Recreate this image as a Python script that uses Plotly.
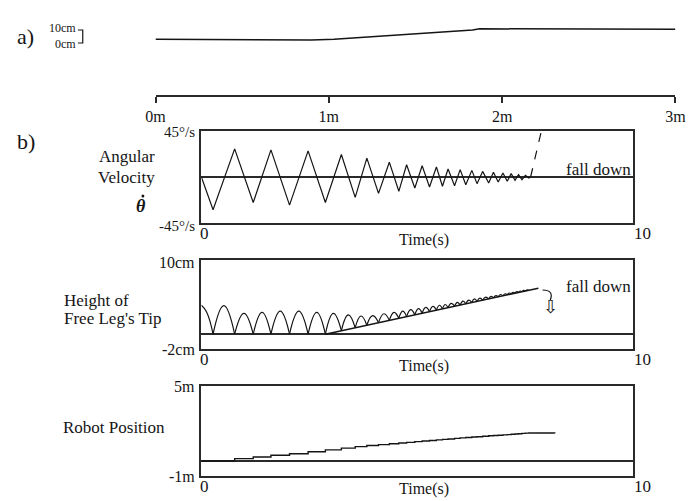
import plotly.graph_objects as go

W, H = 700, 501

# ---------------- data ----------------
# a) terrain profile (distance in m, height in cm)
TERRAIN_X = [0, 0.3, 0.6, 0.76, 0.9, 1.03, 1.2, 1.34, 1.5, 1.64, 1.75, 1.83, 1.87, 2.0, 2.2, 2.4, 2.6, 2.8, 3.0]
TERRAIN_H = [0, -0.2, -0.5, -1.2, -0.8, 0, 2.0, 3.6, 5.3, 7.3, 8.3, 9.3, 10.5, 10.4, 10.0, 10.0, 10.2, 10.0, 10.0]
TERRAIN_TICKS = [0, 1, 2, 3]
TERRAIN_TICKTEXT = ["0m", "1m", "2m", "3m"]

# b) angular velocity (deg/s) at turning points
AV_T = [0, 0.27, 0.77, 1.2, 1.61, 2.04, 2.47, 2.87, 3.24, 3.56, 3.83, 4.10, 4.35, 4.57, 4.75,
        4.94, 5.11, 5.28, 5.44, 5.58, 5.71, 5.86, 5.99, 6.12, 6.26, 6.38, 6.51, 6.65, 6.76,
        6.87, 6.98, 7.08, 7.17, 7.26, 7.34, 7.42, 7.50, 7.58, 7.62]
AV = [0, -32, 27.5, -25, 26.5, -27.5, 25.6, -25, 22, -20, 18.5, -16, 14.5, -14, 12,
      -10.8, 11, -9.8, 9.8, -9.1, 7.8, -8.5, 7.2, -7.5, 6.5, -6.5, 5.5, -5.9, 4.6,
      -4.9, 3.9, -4.2, 3.3, -3.3, 2.3, -2.6, 1.6, -1, 0]
AV_FALL_T = [7.62, 7.87]
AV_FALL = [0, 45]

# height of free leg's tip (cm): contact times, contact heights, arc peaks
CONTACT_T = [0.27, 0.77, 1.2, 1.61, 2.04, 2.47, 2.87, 3.24, 3.56, 3.83, 4.10, 4.35, 4.57, 4.75,
             4.94, 5.11, 5.28, 5.44, 5.58, 5.71, 5.86, 5.99, 6.12, 6.26, 6.38, 6.51, 6.65, 6.76,
             6.87, 6.98, 7.08, 7.17, 7.26, 7.34, 7.42, 7.50, 7.58]
CONTACT_H = [0, 0, 0, 0, 0, 0, 0, 0.47, 0.87, 1.21, 1.55, 1.86, 2.14, 2.36,
             2.6, 2.82, 3.03, 3.23, 3.41, 3.57, 3.76, 3.92, 4.09, 4.26, 4.41, 4.58, 4.75, 4.89,
             5.03, 5.17, 5.3, 5.41, 5.52, 5.62, 5.72, 5.82, 5.92]
ARC_PEAK = [3.85, 2.8, 2.95, 3.1, 3.1, 2.95, 2.8, 2.6, 2.45, 2.5, 2.75, 2.95, 3.1,
            3.3, 3.45, 3.6, 3.75, 3.9, 4.0, 4.15, 4.3, 4.45, 4.6, 4.75, 4.85, 5.0, 5.1,
            5.2, 5.35, 5.45, 5.55, 5.65, 5.75, 5.82, 5.9, 5.98]
START_T = [0, 0.12, 0.27]
START_H = [3.9, 3.0, 0]
SUPPORT_T = [2.87, 7.8]
SUPPORT_H = [0, 6.2]

# robot position (m)
POS_T = [0, 0.77, 1.2, 1.61, 2.04, 2.47, 2.87, 3.24, 3.56, 3.83, 4.10, 4.35, 4.57, 4.75, 4.94,
         5.11, 5.28, 5.44, 5.58, 5.71, 5.86, 5.99, 6.12, 6.26, 6.38, 6.51, 6.65, 6.76, 6.87,
         6.98, 7.08, 7.17, 7.26, 7.34, 7.42, 7.50, 7.58, 8.18]
POS = [0, 0.16, 0.27, 0.38, 0.48, 0.62, 0.74, 0.86, 0.96, 1.03, 1.09, 1.15, 1.20, 1.24, 1.29,
       1.33, 1.37, 1.41, 1.44, 1.47, 1.51, 1.54, 1.57, 1.60, 1.62, 1.65, 1.68, 1.70, 1.72,
       1.74, 1.76, 1.78, 1.80, 1.82, 1.84, 1.86, 1.87, 1.85]

# ---------------- layout helpers ----------------
def px(x):
    return x / W

def py(y):
    return 1 - y / H

FONT = "Liberation Serif"
INK = "#151515"
BOX = "#2a2a2a"

BX0, BX1 = 197.3, 642.7
PANELS = {  # top, bottom in pixels
    2: (131, 223),
    3: (260, 349),
    4: (386, 476),
}

fig = go.Figure()

# a) terrain
fig.add_trace(go.Scatter(x=TERRAIN_X, y=TERRAIN_H, mode="lines",
                         line=dict(color=INK, width=1.5), xaxis="x", yaxis="y",
                         hoverinfo="skip", showlegend=False))

# b1) angular velocity
fig.add_trace(go.Scatter(x=AV_T, y=AV, mode="lines", line=dict(color=INK, width=1.2),
                         xaxis="x2", yaxis="y2", showlegend=False))
fig.add_trace(go.Scatter(x=AV_FALL_T, y=AV_FALL, mode="lines",
                         line=dict(color=INK, width=1.2, dash="dash"),
                         xaxis="x2", yaxis="y2", showlegend=False))

# b2) free leg tip height
ax, ay = list(START_T) + [None], list(START_H) + [None]
for i in range(len(CONTACT_T) - 1):
    t0, t1 = CONTACT_T[i], CONTACT_T[i + 1]
    ax += [t0, (t0 + t1) / 2, t1, None]
    ay += [CONTACT_H[i], ARC_PEAK[i], CONTACT_H[i + 1], None]
fig.add_trace(go.Scatter(x=ax, y=ay, mode="lines",
                         line=dict(color=INK, width=1.2, shape="spline", smoothing=1.3),
                         connectgaps=False, xaxis="x3", yaxis="y3", showlegend=False))
fig.add_trace(go.Scatter(x=SUPPORT_T, y=SUPPORT_H, mode="lines",
                         line=dict(color=INK, width=1.5),
                         xaxis="x3", yaxis="y3", showlegend=False))

# b3) robot position
fig.add_trace(go.Scatter(x=POS_T, y=POS, mode="lines",
                         line=dict(color=INK, width=1.4, shape="hv"),
                         xaxis="x4", yaxis="y4", showlegend=False))

layout = dict(
    width=W, height=H, margin=dict(l=0, r=0, t=0, b=0),
    paper_bgcolor="white", plot_bgcolor="rgba(0,0,0,0)",
    font=dict(family=FONT, color=INK),
    showlegend=False,
)

# terrain axes
A_AXIS_Y = 96
layout["xaxis"] = dict(domain=[px(150), px(686)], range=[0, 3], anchor="free",
                       position=py(A_AXIS_Y), showline=True, linecolor=BOX, linewidth=1.5,
                       ticks="outside", ticklen=6, tickcolor=BOX, tickwidth=1.5,
                       tickvals=TERRAIN_TICKS, ticktext=TERRAIN_TICKTEXT,
                       tickfont=dict(family=FONT, size=16, color=INK),
                       showgrid=False, zeroline=False, fixedrange=True)
layout["yaxis"] = dict(domain=[py(55), py(15)], range=[-15.7, 24.3], visible=False,
                       fixedrange=True)

ranges = {2: [-45, 45], 3: [-2, 10], 4: [-1, 5]}
for k, (top, bot) in PANELS.items():
    layout[f"xaxis{k}"] = dict(domain=[px(BX0), px(BX1)], range=[0, 10], anchor=f"y{k}",
                               showline=True, mirror=True, linecolor=BOX, linewidth=1.5,
                               showticklabels=False, ticks="", showgrid=False,
                               zeroline=False, fixedrange=True)
    layout[f"yaxis{k}"] = dict(domain=[py(bot), py(top)], range=ranges[k], anchor=f"x{k}",
                               showline=True, mirror=True, linecolor=BOX, linewidth=1.5,
                               showticklabels=False, ticks="", showgrid=False,
                               zeroline=True, zerolinecolor=BOX, zerolinewidth=1.5,
                               fixedrange=True)

fig.update_layout(**layout)

ann = []

def text(x, y, s, size=16, xanchor="center", yanchor="middle", align="center"):
    ann.append(dict(x=px(x), y=py(y), xref="paper", yref="paper", text=s, showarrow=False,
                    xanchor=xanchor, yanchor=yanchor, align=align, borderpad=0,
                    font=dict(family=FONT, size=size, color=INK)))

# panel a labels
text(6, 37, "a)", size=22, xanchor="left")
text(69, 36, "10cm<br>0cm", size=12, xanchor="right", align="right")

# panel b labels
text(6, 142, "b)", size=22, xanchor="left")
TIME_Y = {2: 240, 3: 366, 4: 489}
for k, (top, bot) in PANELS.items():
    text(BX0 - 2, bot + 10, "0", size=17, xanchor="left")
    text(652, bot + 10, "10", size=17)
    text(427, TIME_Y[k], "Time(s)", size=16)

text(192, 132, "45°/s", size=15, xanchor="right")
text(192, 226, "-45°/s", size=15, xanchor="right")
text(150, 156, "Angular", size=17, xanchor="right")
text(150, 177, "Velocity", size=17, xanchor="right")
text(135, 206, "<b><i>θ</i></b>", size=18)
text(641, 169, "fall down", size=17, xanchor="right")

text(192, 262, "10cm", size=16, xanchor="right")
text(192, 349, "-2cm", size=16, xanchor="right")
text(55, 300, "Height of", size=17, xanchor="left")
text(55, 318, "Free Leg's Tip", size=17, xanchor="left")
text(641, 286, "fall down", size=17, xanchor="right")
text(557, 307, "⇩", size=18)

text(192, 386, "5m", size=16, xanchor="right")
text(192, 476, "-1m", size=16, xanchor="right")
text(54, 427, "Robot Position", size=17, xanchor="left")

fig.update_layout(annotations=ann)

# decorative scale bracket, dot over theta and curved arrow stem
shapes = [
    dict(type="path", xref="paper", yref="paper", line=dict(color=INK, width=1.2),
         path=f"M {px(70)},{py(30)} L {px(75)},{py(30)} L {px(75)},{py(43)} L {px(70)},{py(43)}"),
    dict(type="circle", xref="paper", yref="paper", fillcolor=INK, line=dict(color=INK, width=0),
         x0=px(135.5), x1=px(138.5), y0=py(197.5), y1=py(194.5)),
    dict(type="path", xref="paper", yref="paper", line=dict(color=INK, width=1.2),
         path=f"M {px(549)},{py(290)} Q {px(561)},{py(290)} {px(557)},{py(300)}"),
]
fig.update_layout(shapes=shapes)

fig.write_html("out.html")
